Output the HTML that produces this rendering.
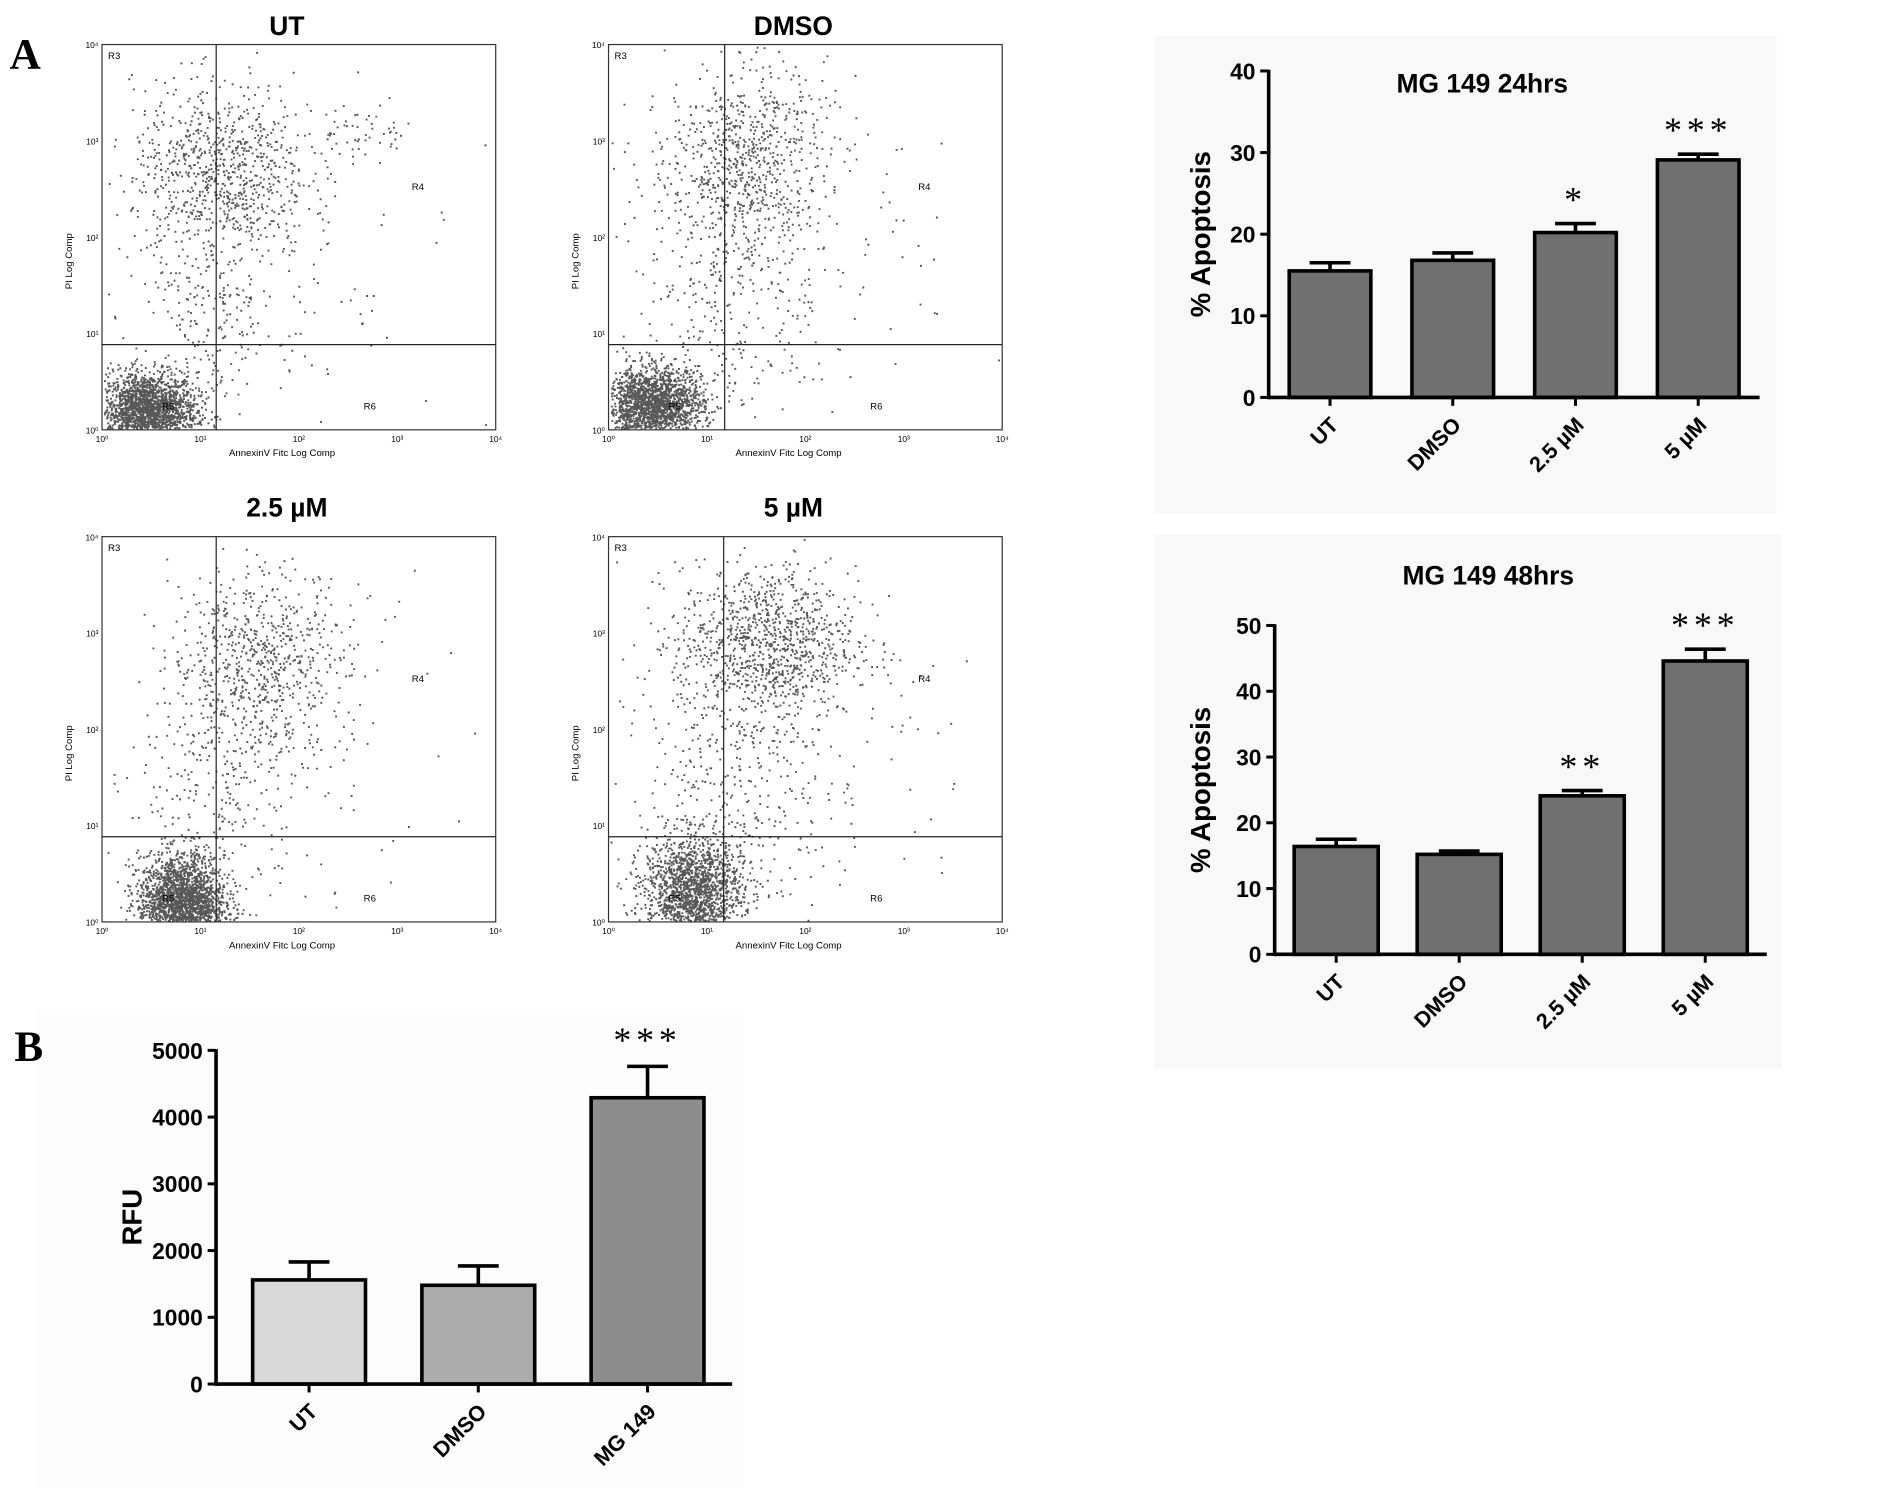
<!DOCTYPE html>
<html><head><meta charset="utf-8">
<style>
html,body{margin:0;padding:0;background:#fff;}
svg{display:block;}
text{font-family:"Liberation Sans",Arial,sans-serif;}
</style></head>
<body>
<svg id="fig" width="1882" height="1491" viewBox="0 0 1568 1242" xmlns="http://www.w3.org/2000/svg">
<rect x="0" y="0" width="1568" height="1242" fill="#fff"/>
<rect x="962" y="30" width="518" height="398" fill="#f8f8f8"/>
<rect x="962" y="445" width="523" height="445" fill="#f8f8f8"/>
<rect x="30" y="840" width="590" height="400" fill="#fcfcfc"/>
<text x="8" y="57" font-weight="bold" font-size="36" style="font-family:'Liberation Serif',serif">A</text>
<text x="12" y="884" font-size="36" font-weight="bold" style="font-family:'Liberation Serif',serif">B</text>
<g id="scatters"></g>
<g id="bars"></g>
</svg>
<script>
// ---------- Bar chart data ----------
const cats24 = ["UT","DMSO","2.5 µM","5 µM"];
const vals24 = [15.5, 16.8, 20.2, 29.1];
const errs24 = [1.0, 0.9, 1.1, 0.7];
const stars24 = ["","","*","***"];
const ticks24 = [0,10,20,30,40];

const cats48 = ["UT","DMSO","2.5 µM","5 µM"];
const vals48 = [16.4, 15.2, 24.1, 44.6];
const errs48 = [1.1, 0.5, 0.8, 1.8];
const stars48 = ["","","**","***"];
const ticks48 = [0,10,20,30,40,50];

const catsB = ["UT","DMSO","MG 149"];
const valsB = [1560, 1480, 4290];
const errsB = [270, 290, 470];
const starsB = ["","","***"];
const ticksB = [0,1000,2000,3000,4000,5000];

// ---------- Flow cytometry cluster data (log10 units: x, y, spreadX, spreadY, count) ----------
const titlesFlow = ["UT","DMSO","2.5 µM","5 µM"];
const clustersUT = [[0.45,0.2,0.25,0.2,2200],[1.2,2.7,0.45,0.45,800],[1.1,1.3,0.35,0.7,250],[2.6,3.1,0.3,0.15,60],[1.5,1.5,1.0,1.0,120]];
const clustersDMSO = [[0.45,0.25,0.25,0.2,2100],[1.4,2.8,0.4,0.5,750],[1.2,1.5,0.45,0.75,300],[1.8,1.8,1.0,1.0,120]];
const clusters25 = [[0.8,0.2,0.22,0.25,2300],[1.6,2.7,0.45,0.5,700],[1.2,1.4,0.4,0.7,250],[1.8,1.8,1.0,1.0,100]];
const clusters5 = [[0.85,0.3,0.25,0.3,1800],[1.6,2.9,0.45,0.4,1000],[1.3,1.5,0.45,0.8,350],[1.9,1.9,1.0,1.0,150]];

const NS="http://www.w3.org/2000/svg";
function mk(tag,attrs,parent){const e=document.createElementNS(NS,tag);for(const k in attrs)e.setAttribute(k,attrs[k]);parent.appendChild(e);return e;}

let seed=12345;
function rnd(){seed=(seed*1103515245+12345)%2147483648;return seed/2147483648;}
function gauss(){let u=rnd()||1e-6,v=rnd();return Math.sqrt(-2*Math.log(u))*Math.cos(2*Math.PI*v);}

const flowPos=[[85,37],[507,37],[85,447],[507,447]];
const titleGap=[8,8,17,17];
const flowClusters=[clustersUT,clustersDMSO,clusters25,clusters5];
const vlines=[1.16,1.18,1.16,1.17];
const sg=document.getElementById('scatters');
flowPos.forEach((p,i)=>{
  const g=mk('g',{},sg);
  
  
  const W=328,H=321;
  const sx=v=>p[0]+v/4*W, sy=v=>p[1]+H-v/4*H;
  const t=mk('text',{x:p[0]+W/2-10,y:p[1]-titleGap[i],'text-anchor':'middle','font-size':22,'font-weight':'bold'},g);
  t.textContent=titlesFlow[i];
  
  
  let path='';
  flowClusters[i].forEach(c=>{
    for(let k=0;k<c[4];k++){
      let x=c[0]+gauss()*c[2], y=c[1]+gauss()*c[3];
      if(x<0.02||x>3.98||y<0.02||y>3.98)continue;
      path+='M'+sx(x).toFixed(1)+' '+sy(y).toFixed(1)+'h1.6v1.6h-1.6z';
    }
  });
  const dots=mk('path',{d:path,fill:'#3a3a3a','fill-opacity':0.85},g);
  
  
  const box=mk('rect',{x:p[0],y:p[1],width:W,height:H,fill:'none',stroke:'#333','stroke-width':1},g);
  
  
  mk('line',{x1:sx(vlines[i]),x2:sx(vlines[i]),y1:p[1],y2:p[1]+H,stroke:'#222','stroke-width':1},g);
  mk('line',{x1:p[0],x2:p[0]+W,y1:p[1]+250,y2:p[1]+250,stroke:'#222','stroke-width':1},g);
  for(let d=0;d<=4;d++){
    const tx=mk('text',{x:sx(d),y:p[1]+H+10,'font-size':7,'text-anchor':'middle'},g);tx.textContent='10'+['⁰','¹','²','³','⁴'][d];
    const ty=mk('text',{x:p[0]-3,y:sy(d)+3,'font-size':7,'text-anchor':'end'},g);ty.textContent='10'+['⁰','¹','²','³','⁴'][d];
  }
  const xl=mk('text',{x:p[0]+W/2-14,y:p[1]+H+22,'font-size':8,'text-anchor':'middle'},g);xl.textContent='AnnexinV Fitc Log Comp';
  
  const yl=mk('text',{x:0,y:0,'font-size':8,'text-anchor':'middle',transform:`translate(${p[0]-25},${p[1]+H/2+20}) rotate(-90)`},g);yl.textContent='PI Log Comp';
  
  [['R3',p[0]+5,p[1]+12],['R4',p[0]+258,p[1]+121],['R6',p[0]+218,p[1]+304],['R5',p[0]+50,p[1]+304]].forEach(r=>{
    const rt=mk('text',{x:r[1],y:r[2],'font-size':8},g);rt.textContent=r[0];
  });
});

const bg=document.getElementById('bars');
function barChart(o){
  const g=mk('g',{},bg);
  
  
  const yScale=v=>o.y0-(v-o.ticks[0])/(o.ticks[o.ticks.length-1]-o.ticks[0])*(o.y0-o.y1);
  const n=o.cats.length;
  const bx0=o.x0+(o.pad||0);
  const step=(o.xEnd-bx0)/n;
  o.cats.forEach((c,i)=>{
    const cx=bx0+step*(i+0.5);
    const bx=cx-o.bw/2, top=yScale(o.vals[i]);
    const r=mk('rect',{x:bx,y:top,width:o.bw,height:o.y0-top,fill:o.fills[i],stroke:'#000','stroke-width':3},g);
    
    
    const et=yScale(o.vals[i]+o.errs[i]);
    mk('line',{x1:cx,x2:cx,y1:top,y2:et,stroke:'#000','stroke-width':3},g);
    mk('line',{x1:cx-o.cap,x2:cx+o.cap,y1:et,y2:et,stroke:'#000','stroke-width':3},g);
    if(o.stars[i]){const s=mk('text',{x:cx,y:et-o.starGap,'text-anchor':'middle','font-size':30,'letter-spacing':4,style:"font-family:'Liberation Serif',serif"},g);s.textContent=o.stars[i];
      }
    mk('line',{x1:cx,x2:cx,y1:o.y0,y2:o.y0+7,stroke:'#000','stroke-width':2.5},g);
    const lt=mk('text',{x:0,y:0,'font-size':18,'font-weight':'bold','text-anchor':'end',transform:`translate(${cx+8},${o.y0+24}) rotate(-45)`},g);
    lt.textContent=c;
    
  });
  mk('line',{x1:o.x0,x2:o.x0,y1:o.y1-1,y2:o.y0+1.5,stroke:'#000','stroke-width':3},g);
  mk('line',{x1:o.x0,x2:o.xEnd,y1:o.y0,y2:o.y0,stroke:'#000','stroke-width':3},g);
  o.ticks.forEach(t=>{
    const y=yScale(t);
    mk('line',{x1:o.x0-7,x2:o.x0,y1:y,y2:y,stroke:'#000','stroke-width':2.5},g);
    const tt=mk('text',{x:o.x0-11,y:y+7,'text-anchor':'end','font-size':19,'font-weight':'bold'},g);tt.textContent=t;
    
  });
  const yl=mk('text',{x:0,y:0,'text-anchor':'middle','font-size':23,'font-weight':'bold',transform:`translate(${o.ylx},${(o.y0+o.y1)/2}) rotate(-90)`},g);
  yl.textContent=o.ylabel;
  if(o.title){const t=mk('text',{x:o.tx,y:o.ty,'text-anchor':'middle','font-size':22,'font-weight':'bold'},g);t.textContent=o.title;
    }
}
barChart({name:'chart-24h',cats:cats24,vals:vals24,errs:errs24,stars:stars24,ticks:ticks24,x0:1057,xEnd:1466,y0:331,y1:59,bw:68,cap:17,fills:['#707070','#707070','#707070','#707070'],ylabel:'% Apoptosis',ylx:1008,title:'MG 149 24hrs',tx:1235,ty:77,starGap:10});
barChart({name:'chart-48h',cats:cats48,vals:vals48,errs:errs48,stars:stars48,ticks:ticks48,x0:1062,xEnd:1472,y0:795,y1:521,bw:70,cap:17,fills:['#707070','#707070','#707070','#707070'],ylabel:'% Apoptosis',ylx:1008,title:'MG 149 48hrs',tx:1240,ty:487,starGap:10});
barChart({name:'chart-b',cats:catsB,vals:valsB,errs:errsB,stars:starsB,ticks:ticksB,x0:180,xEnd:610,y0:1153,y1:875,bw:94,cap:17,fills:['#d9d9d9','#acacac','#8d8d8d'],ylabel:'RFU',ylx:118,title:'',starGap:12,pad:7});
</script>
</body></html>
